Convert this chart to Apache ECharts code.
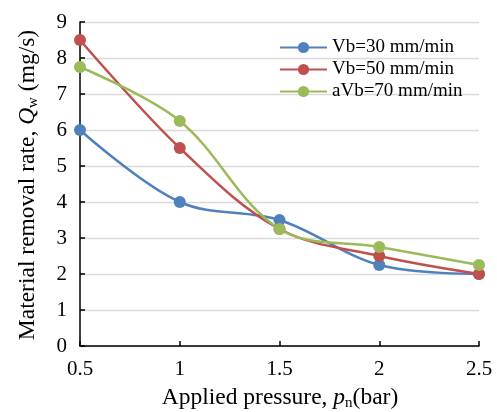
<!DOCTYPE html>
<html>
<head>
<meta charset="utf-8">
<script src="https://cdn.jsdelivr.net/npm/echarts@6/dist/echarts.min.js"></script>
<style>
html,body{margin:0;padding:0;background:#fff;}
#chart{width:497px;height:412px;}
</style>
</head>
<body>
<div id="chart"></div>
<script>
// Applied pressure (bar)
const pressure = [0.5, 1, 1.5, 2, 2.5];
// Material removal rate (mg/s) for each feed speed
const vb30 = [6, 4, 3.5, 2.25, 2];
const vb50 = [8.5, 5.5, 3.25, 2.5, 2];
const vb70 = [7.75, 6.25, 3.25, 2.75, 2.25];
const seriesNames = ['Vb=30 mm/min', 'Vb=50 mm/min', 'aVb=70 mm/min'];
const colors = ['#4F81BD', '#C0504D', '#9BBB59'];

const font = '"Liberation Serif", "Times New Roman", serif';
const chart = echarts.init(document.getElementById('chart'));

function pairs(vals) { return pressure.map((x, i) => [x, vals[i]]); }
function line(name, vals, color) {
  return {
    name: name, type: 'line', data: pairs(vals), smooth: 0.35,
    symbol: 'circle', symbolSize: 12,
    lineStyle: { width: 2.5, color: color },
    itemStyle: { color: color },
    emphasis: { disabled: true }
  };
}

function richFor(size) {
  return {
    t: { fontSize: size, fontFamily: font, fill: '#000' },
    i: { fontSize: size, fontFamily: font, fontStyle: 'italic', fill: '#000' },
    s: { fontSize: Math.round(size * 0.65), fontFamily: font, fill: '#000', verticalAlign: 'bottom', padding: [Math.round(size * 0.45), 0, 0, 0] }
  };
}

chart.setOption({
  animation: false,
  color: colors,
  textStyle: { fontFamily: font },
  grid: { left: 80, right: 18, top: 22, bottom: 66, containLabel: false },
  legend: {
    orient: 'vertical', left: 274, top: 33, itemWidth: 47, itemHeight: 14, itemGap: 3,
    textStyle: { fontFamily: font, fontSize: 19, color: '#000' },
    data: seriesNames
  },
  xAxis: {
    type: 'value', min: 0.5, max: 2.5, interval: 0.5,
    axisLine: { lineStyle: { color: '#000', width: 1.5 } },
    axisTick: { inside: true, length: 5, lineStyle: { color: '#000', width: 1.5 } },
    axisLabel: { color: '#000', fontSize: 21, margin: 13, fontFamily: font },
    splitLine: { show: false }
  },
  yAxis: {
    type: 'value', min: 0, max: 9, interval: 1,
    axisLine: { show: true, lineStyle: { color: '#000', width: 1.5 } },
    axisTick: { show: true, inside: true, length: 5, lineStyle: { color: '#000', width: 1.5 } },
    axisLabel: { color: '#000', fontSize: 21, margin: 13, fontFamily: font },
    splitLine: { lineStyle: { color: '#d9d9d9', width: 1.3 } }
  },
  graphic: [
    {
      type: 'text', x: 280, y: 398,
      style: {
        text: '{t|Applied pressure, }{i|p}{s|n}{t|(bar)}',
        rich: richFor(23.5), align: 'center', verticalAlign: 'middle'
      }
    },
    {
      type: 'text', x: 28, y: 185, rotation: Math.PI / 2,
      style: {
        text: '{t|Material removal rate, }{i|Q}{s|w}{t| (mg/s)}',
        rich: richFor(23.5), align: 'center', verticalAlign: 'middle'
      }
    }
  ],
  series: [
    line(seriesNames[0], vb30, colors[0]),
    line(seriesNames[1], vb50, colors[1]),
    line(seriesNames[2], vb70, colors[2])
  ]
});
</script>
</body>
</html>
